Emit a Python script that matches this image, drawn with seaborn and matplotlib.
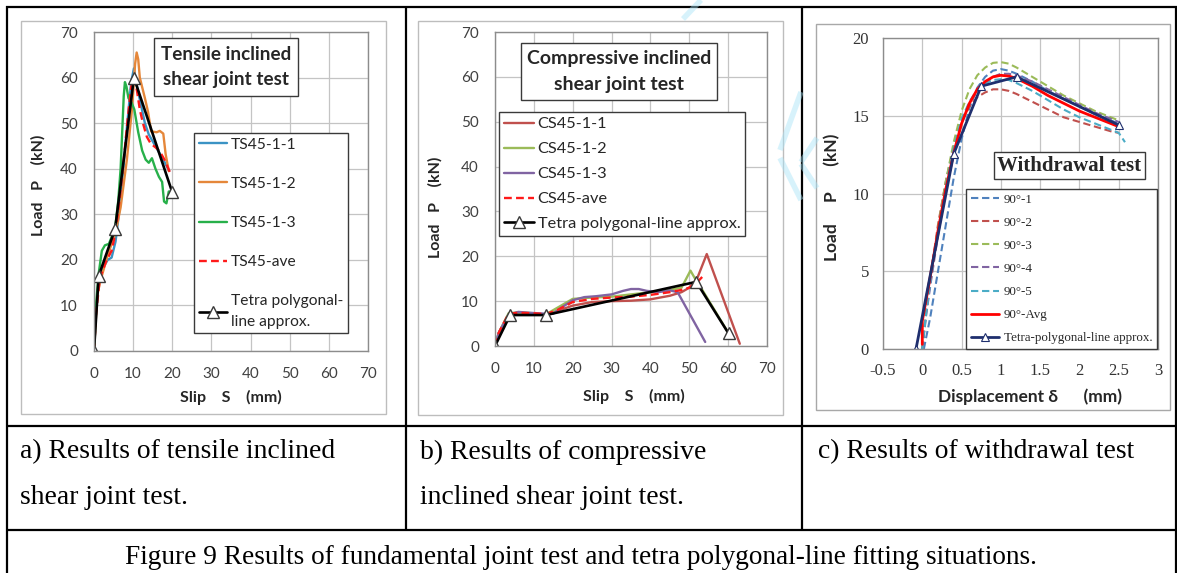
import matplotlib
matplotlib.use("Agg")
import matplotlib.pyplot as plt
from matplotlib.patches import Rectangle
from matplotlib.lines import Line2D
from matplotlib.ticker import FuncFormatter
import seaborn as sns

# ---------------- data ----------------
# (a) tensile inclined shear joint test, slip S (mm) vs load P (kN)
ts1_x = [0, 0.5, 1.2, 2.5, 3.5, 4.5, 5.5, 6.5, 7.5, 8.5, 9.5, 10.2, 11, 12, 13, 14, 15, 16, 17, 18, 19.2]
ts1_y = [0, 8, 15.5, 18.5, 20, 20.5, 24, 31, 40, 50, 59, 62, 58, 54, 50, 47.5, 46, 44.5, 43, 41.5, 39.5]
ts2_x = [0, 0.8, 1.5, 2.5, 3.5, 4.5, 5.5, 6.8, 8.4, 9.7, 10.5, 10.9, 11.3, 11.7, 13, 13.8, 14.6, 16, 16.8, 17.7, 18.3, 19.1]
ts2_y = [0, 12, 15, 18, 21, 23.5, 26, 31.5, 42, 53, 63, 65.5, 64, 60, 55.5, 52.5, 48.2, 48, 48.3, 47.7, 43.2, 39.5]
ts3_x = [0, 0.5, 1.2, 2, 2.8, 3.8, 4.5, 5.4, 6.2, 6.8, 7.2, 7.6, 7.9, 8.3, 8.8, 9.6, 10.3, 11.3, 12.3,
         13.2, 14, 14.8, 15.7, 16.6, 17.4, 17.9, 18.5, 19.1, 19.9]
ts3_y = [0, 10, 17, 22, 23.2, 23.5, 25, 27, 33, 40, 48, 56, 59, 58, 55.5, 54.5, 53, 48, 44,
         42, 41.3, 42.3, 40, 38.2, 37.1, 32.8, 32.4, 35, 35]
tsa_x = [0, 0.5, 1.5, 3, 4.5, 5.5, 6.5, 7.5, 8.5, 9.5, 10.3, 11, 11.7, 12.5, 13.5, 14.5, 16, 17, 18, 19.5]
tsa_y = [0, 8, 16, 19.5, 22, 26, 33, 41, 50, 58, 60, 57, 53, 50, 47, 45.5, 44.5, 43.5, 42, 39]
tsp_x = [0, 1.2, 5.4, 10.2, 20]
tsp_y = [0, 16.5, 26.8, 60, 34.8]

# (b) compressive inclined shear joint test
cs1_x = [0, 1, 3.5, 6, 10, 13, 16, 20, 25, 30, 35, 40, 45, 48, 50, 52, 54.5, 63]
cs1_y = [0, 3, 7, 7.3, 7.2, 7, 7.8, 9, 9.8, 10, 10.1, 10.4, 11.2, 12, 13, 15, 20.5, 0.5]
cs2_x = [0, 1, 3.5, 6, 10, 13, 15, 18, 20, 25, 30, 35, 40, 45, 48, 50.3, 51.5, 53, 60]
cs2_y = [0, 3, 7.3, 7.5, 7.3, 7, 8, 9.5, 10.5, 10.8, 11, 11.5, 12, 12.5, 13, 16.8, 15, 13, 3]
cs3_x = [0, 1, 3.5, 6, 9, 13, 15, 17, 20, 23, 26, 30, 33, 35, 37, 39, 42, 45, 47, 54.1]
cs3_y = [0, 3, 7, 7.6, 7.4, 7.2, 7.2, 8.5, 10.2, 10.9, 11.1, 11.5, 12.3, 12.7, 12.7, 12.3, 12, 12.4, 12, 0.9]
csa_x = [0, 1, 3.5, 6, 10, 13, 16, 20, 25, 30, 35, 40, 45, 48, 50, 52, 54]
csa_y = [0, 3, 7.2, 7.4, 7.3, 7.1, 8, 9.8, 10.5, 10.8, 11, 11.4, 12, 12.5, 13, 14.2, 16]
csp_x = [0, 3.9, 13.1, 51.8, 60.1]
csp_y = [0, 6.9, 6.9, 14.3, 2.8]

# (c) withdrawal test, displacement (mm) vs load P (kN)
wd_x = [0, 0.05, 0.1, 0.2, 0.3, 0.4, 0.5, 0.6, 0.7, 0.8, 0.9, 1.0, 1.1, 1.2, 1.4, 1.6, 1.8, 2.0, 2.2, 2.4, 2.5]
w1_x = [0.02, 0.1, 0.2, 0.3, 0.4, 0.5, 0.6, 0.7, 0.8, 0.9, 1.0, 1.1, 1.2, 1.4, 1.6, 1.8, 2.0, 2.2, 2.4, 2.5]
w1_y = [0, 2, 5, 8, 11, 13.5, 15.5, 16.8, 17.5, 17.9, 18.0, 17.9, 17.7, 17.2, 16.6, 16.1, 15.6, 15.1, 14.7, 14.5]
w2_y = [0, 2.5, 4.5, 8, 10.8, 13, 14.6, 15.6, 16.2, 16.5, 16.7, 16.7, 16.6, 16.4, 15.9, 15.4, 14.9, 14.6, 14.3, 14.0, 13.9]
w3_y = [0, 2.5, 4.3, 7.8, 10.8, 13.3, 15.3, 16.7, 17.6, 18.1, 18.4, 18.45, 18.35, 18.1, 17.5, 16.9, 16.3, 15.8, 15.3, 14.9, 14.7]
w4_y = [0, 2.2, 4, 7.3, 10.2, 12.6, 14.5, 15.8, 16.6, 17.1, 17.5, 17.7, 17.7, 17.6, 17.2, 16.7, 16.2, 15.7, 15.2, 14.8, 14.6]
w5_x = wd_x + [2.58]
w5_y = [0, 2.3, 4.2, 7.6, 10.5, 12.9, 14.8, 15.9, 16.7, 17.1, 17.3, 17.35, 17.3, 17.1, 16.6, 16.0, 15.4, 14.9, 14.5, 14.1, 13.9, 13.3]
wa_x = [0] + wd_x
wa_y = [0.3, 1.8, 3.2, 4.6, 7.6, 10.3, 12.6, 14.5, 15.8, 16.7, 17.2, 17.5, 17.6, 17.55, 17.4, 16.9, 16.3, 15.8, 15.3, 14.9, 14.5, 14.3]
wp_x = [-0.08, 0.40, 0.75, 1.20, 2.50]
wp_y = [0, 12.55, 16.9, 17.5, 14.4]

ab_ticks = [0, 10, 20, 30, 40, 50, 60, 70]
c_xticks = [-0.5, 0, 0.5, 1, 1.5, 2, 2.5, 3]
c_yticks = [0, 5, 10, 15, 20]

# ---------------- style ----------------
sns.set_style("white")
SANS = ["Lato", "DejaVu Sans"]
SERIF = ["Liberation Serif", "DejaVu Serif"]
plt.rcParams["font.family"] = SANS

W, H = 1177, 573
fig = plt.figure(figsize=(W / 100, H / 100), dpi=100)
fig.patch.set_facecolor("white")


def fx(px):
    return px / W


def fy(py):
    return 1 - py / H


def add_axes_px(l, t, r, b):
    return fig.add_axes([fx(l), fy(b), (r - l) / W, (b - t) / H])


def frame_px(l, t, r, b, ec="#BDBDBD", lw=1.0, fc="white", z=0):
    fig.add_artist(Rectangle((fx(l), fy(b)), (r - l) / W, (b - t) / H, transform=fig.transFigure,
                             fc=fc, ec=ec, lw=lw, zorder=z))


def rule(x1, y1, x2, y2):
    fig.add_artist(Line2D([fx(x1), fx(x2)], [fy(y1), fy(y2)], transform=fig.transFigure,
                          color="black", lw=1.6, solid_capstyle="butt", zorder=5))


def stroke(xs, ys):
    # faint cyan watermark strokes on the page
    fig.add_artist(Line2D([fx(v) for v in xs], [fy(v) for v in ys], transform=fig.transFigure,
                          color="#A8E4F8", lw=4, alpha=0.45, solid_capstyle="butt", zorder=8))


def style_axes(ax, tick_family, tick_size, tick_color):
    ax.set_facecolor("white")
    ax.grid(True, color="#C4C4C4", lw=0.9)
    ax.set_axisbelow(True)
    for s in ax.spines.values():
        s.set_visible(True)
        s.set_color("#8C8C8C")
        s.set_linewidth(1.0)
    ax.tick_params(axis="both", length=4, width=0.9, color="#8C8C8C", pad=7.5,
                   labelsize=tick_size, labelcolor=tick_color, direction="out")
    for lab in ax.get_xticklabels() + ax.get_yticklabels():
        lab.set_family(tick_family)


dash = (0, (3.3, 1.8))
tri = dict(marker="^", markersize=9, markerfacecolor="white", markeredgecolor="#3A3A3A", markeredgewidth=1.0)

# chart frames
frame_px(21, 21, 386, 414)
frame_px(418, 21, 783, 415)
frame_px(816, 24, 1170, 410, ec="#A8A8A8")

# ---------------- (a) ----------------
axa = add_axes_px(94, 32, 368, 351)
sns.lineplot(x=ts1_x, y=ts1_y, sort=False, estimator=None, ax=axa, color="#3B93C4", lw=1.7, label="TS45-1-1")
sns.lineplot(x=ts2_x, y=ts2_y, sort=False, estimator=None, ax=axa, color="#E5873A", lw=1.7, label="TS45-1-2")
sns.lineplot(x=ts3_x, y=ts3_y, sort=False, estimator=None, ax=axa, color="#27B04A", lw=1.7, label="TS45-1-3")
sns.lineplot(x=tsa_x, y=tsa_y, sort=False, estimator=None, ax=axa, color="#FF1A1A", lw=1.7, linestyle=dash,
             label="TS45-ave")
sns.lineplot(x=tsp_x, y=tsp_y, sort=False, estimator=None, ax=axa, color="black", lw=1.9,
             label="Tetra polygonal-\nline approx.", **tri)
axa.set_xlim(0, 70)
axa.set_ylim(0, 70)
axa.set_xticks(ab_ticks)
axa.set_yticks(ab_ticks)
style_axes(axa, SANS, 11, "#404040")
axa.set_xlabel("Slip    S    (mm)", fontsize=11.5, fontweight="bold", va="center")
axa.set_ylabel("Load   P    (kN)", fontsize=11.5, fontweight="bold", va="center")
axa.xaxis.set_label_coords(0.50, -0.147)
axa.yaxis.set_label_coords(-0.204, 0.52)
leg_a = axa.legend(loc="upper left", bbox_to_anchor=(fx(194), fy(133)), bbox_transform=fig.transFigure,
                   fontsize=11.2, frameon=True, fancybox=False, edgecolor="#3A3A3A", framealpha=1,
                   borderpad=0.3, labelspacing=1.62, handlelength=1.85, handletextpad=0.2, borderaxespad=0)
leg_a.get_frame().set_linewidth(1.0)
leg_a.get_texts()[-1].set_linespacing(1.55)
frame_px(154, 38, 298, 96, ec="#3A3A3A", lw=1.0, z=6)
fig.text(fx(226), fy(67), "Tensile inclined\nshear joint test", ha="center", va="center",
         fontsize=13.6, fontweight="bold", linespacing=1.6, zorder=7)

# ---------------- (b) ----------------
axb = add_axes_px(495, 32, 767, 346)
sns.lineplot(x=cs1_x, y=cs1_y, sort=False, estimator=None, ax=axb, color="#C0504D", lw=1.7, label="CS45-1-1")
sns.lineplot(x=cs2_x, y=cs2_y, sort=False, estimator=None, ax=axb, color="#9BBB59", lw=1.7, label="CS45-1-2")
sns.lineplot(x=cs3_x, y=cs3_y, sort=False, estimator=None, ax=axb, color="#8064A2", lw=1.7, label="CS45-1-3")
sns.lineplot(x=csa_x, y=csa_y, sort=False, estimator=None, ax=axb, color="#FF1A1A", lw=1.7, linestyle=dash,
             label="CS45-ave")
sns.lineplot(x=csp_x, y=csp_y, sort=False, estimator=None, ax=axb, color="black", lw=1.9,
             label="Tetra polygonal-line approx.", **tri)
axb.set_xlim(0, 70)
axb.set_ylim(0, 70)
axb.set_xticks(ab_ticks)
axb.set_yticks(ab_ticks)
style_axes(axb, SANS, 11, "#404040")
axb.set_xlabel("Slip    S    (mm)", fontsize=11.5, fontweight="bold", va="center")
axb.set_ylabel("Load   P    (kN)", fontsize=11.5, fontweight="bold", va="center")
axb.xaxis.set_label_coords(0.51, -0.162)
axb.yaxis.set_label_coords(-0.22, 0.443)
leg_b = axb.legend(loc="upper left", bbox_to_anchor=(fx(499), fy(112)), bbox_transform=fig.transFigure,
                   fontsize=11.8, frameon=True, fancybox=False, edgecolor="#3A3A3A", framealpha=1,
                   borderpad=0.3, labelspacing=0.64, handlelength=1.85, handletextpad=0.2, borderaxespad=0)
leg_b.get_frame().set_linewidth(1.0)
frame_px(521, 43, 717, 100, ec="#3A3A3A", lw=1.0, z=6)
fig.text(fx(619), fy(71.5), "Compressive inclined\nshear joint test", ha="center", va="center",
         fontsize=14, fontweight="bold", linespacing=1.6, zorder=7)

# ---------------- (c) ----------------
axc = add_axes_px(883, 38, 1158, 349)
wdash = (0, (3.5, 1.8))
sns.lineplot(x=w1_x, y=w1_y, sort=False, estimator=None, ax=axc, color="#4F81BD", lw=1.5, linestyle=wdash, label="90°-1")
sns.lineplot(x=wd_x, y=w2_y, sort=False, estimator=None, ax=axc, color="#C0504D", lw=1.5, linestyle=wdash, label="90°-2")
sns.lineplot(x=wd_x, y=w3_y, sort=False, estimator=None, ax=axc, color="#9BBB59", lw=1.5, linestyle=wdash, label="90°-3")
sns.lineplot(x=wd_x, y=w4_y, sort=False, estimator=None, ax=axc, color="#8064A2", lw=1.5, linestyle=wdash, label="90°-4")
sns.lineplot(x=w5_x, y=w5_y, sort=False, estimator=None, ax=axc, color="#4BACC6", lw=1.5, linestyle=wdash, label="90°-5")
sns.lineplot(x=wa_x, y=wa_y, sort=False, estimator=None, ax=axc, color="#FF0000", lw=2.0, label="90°-Avg")
sns.lineplot(x=wp_x, y=wp_y, sort=False, estimator=None, ax=axc, color="#1F2F6E", lw=2.0,
             label="Tetra-polygonal-line approx.", marker="^", markersize=6, markerfacecolor="white",
             markeredgecolor="#1F2F6E", markeredgewidth=0.8)
axc.set_xlim(-0.5, 3)
axc.set_ylim(0, 20)
axc.set_xticks(c_xticks)
axc.set_yticks(c_yticks)
axc.xaxis.set_major_formatter(FuncFormatter(lambda v, p: f"{v:g}"))
style_axes(axc, SERIF, 12, "#333333")
axc.tick_params(pad=6)
axc.set_xlabel("Displacement δ      (mm)", fontsize=12.5, fontweight="bold", va="center")
axc.set_ylabel("Load     P      (kN)", fontsize=12.5, fontweight="bold", va="center")
axc.xaxis.set_label_coords(0.535, -0.154)
axc.yaxis.set_label_coords(-0.185, 0.489)
leg_c = axc.legend(loc="upper left", bbox_to_anchor=(fx(966), fy(189)), bbox_transform=fig.transFigure,
                   prop={"family": SERIF, "size": 9.4}, frameon=True, fancybox=False, edgecolor="#3A3A3A",
                   framealpha=1, borderpad=0.35, labelspacing=0.84, handlelength=2.2, handletextpad=0.35,
                   borderaxespad=0)
leg_c.get_frame().set_linewidth(1.0)
frame_px(994, 152, 1145, 179, ec="#3A3A3A", lw=1.0, z=6)
fig.text(fx(1069.5), fy(166), "Withdrawal test", ha="center", va="center", family=SERIF,
         fontsize=15, fontweight="bold", zorder=7)

# ---------------- watermark strokes ----------------
stroke([701, 683], [0, 19])
stroke([801, 780], [92, 150])
stroke([780, 801], [158, 200])
stroke([817, 801], [138, 162])
stroke([801, 817], [164, 188])

# ---------------- table rules and captions ----------------
rule(6, 6.5, 1177, 6.5)
rule(7, 6, 7, 573)
rule(405.5, 6, 405.5, 530)
rule(802.5, 6, 802.5, 530)
rule(1175.5, 6, 1175.5, 573)
rule(7, 425.5, 1176, 425.5)
rule(7, 530, 1176, 530)

cap = dict(family=SERIF, fontsize=19.9, va="center", ha="left", color="black")
fig.text(fx(20), fy(452), "a) Results of tensile inclined", **cap)
fig.text(fx(20), fy(497), "shear joint test.", **cap)
fig.text(fx(420), fy(452), "b) Results of compressive", **cap)
fig.text(fx(420), fy(497), "inclined shear joint test.", **cap)
fig.text(fx(818), fy(452), "c) Results of withdrawal test", **cap)
fig.text(fx(581), fy(557), "Figure 9 Results of fundamental joint test and tetra polygonal-line fitting situations.",
         family=SERIF, fontsize=19.6, va="center", ha="center", color="black")

fig.savefig("out.png", dpi=100, facecolor="white")
